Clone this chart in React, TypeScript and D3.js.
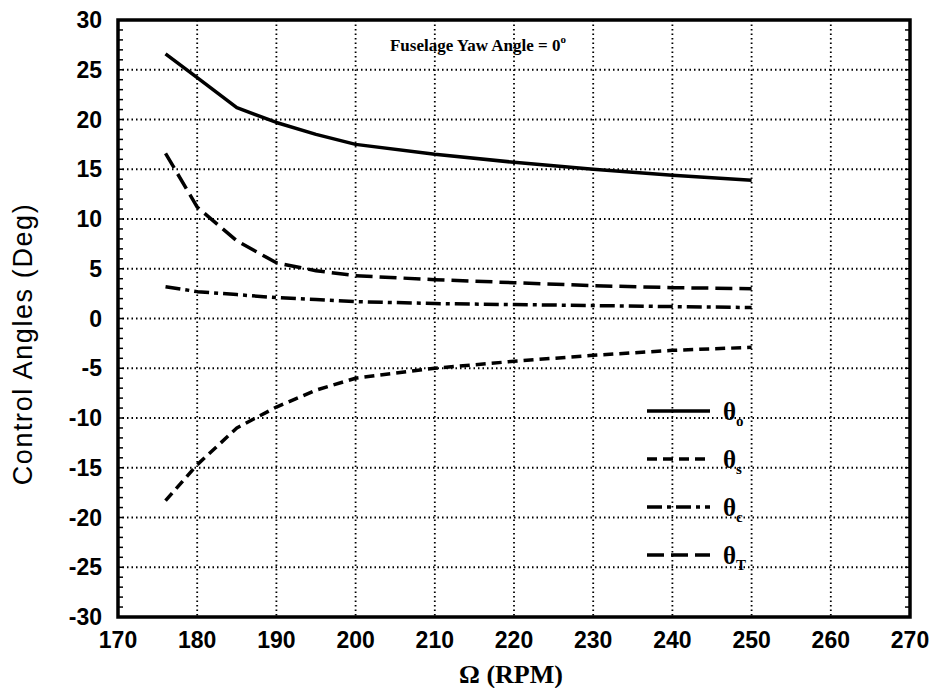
import React from "react";
import * as d3 from "d3";

const rpm = [176, 180, 185, 190, 195, 200, 210, 220, 230, 240, 250];
const thetaO = [26.6, 24.2, 21.2, 19.7, 18.5, 17.5, 16.5, 15.7, 15.0, 14.4, 13.9];
const thetaS = [-18.3, -14.7, -11.0, -8.9, -7.2, -6.0, -5.0, -4.3, -3.7, -3.2, -2.9];
const thetaC = [3.2, 2.7, 2.4, 2.1, 1.9, 1.7, 1.5, 1.4, 1.3, 1.2, 1.1];
const thetaT = [16.6, 11.2, 7.8, 5.6, 4.8, 4.3, 3.9, 3.6, 3.3, 3.1, 3.0];
const xTicks = [170, 180, 190, 200, 210, 220, 230, 240, 250, 260, 270];
const yTicks = [30, 25, 20, 15, 10, 5, 0, -5, -10, -15, -20, -25, -30];
const seriesNames = ["o", "s", "c", "T"];

export default function App() {
  const L = 118, R = 910, T = 20, B = 617;
  const x = d3.scaleLinear().domain([170, 270]).range([L, R]);
  const y = d3.scaleLinear().domain([-30, 30]).range([B, T]);
  const line = d3.line<[number, number]>().x(d => x(d[0])).y(d => y(d[1]));
  const series = [thetaO, thetaS, thetaC, thetaT];
  const dashes = ["none", "10 6", "15 5 4 5", "17 7"];
  const minor = d3.range(-30, 30.01, 1);
  const legendY = [411, 459, 507, 555];
  const sans = "Liberation Sans, Arial, sans-serif";
  const serif = "Liberation Serif, Times New Roman, serif";
  return (
    <svg width={936} height={688} style={{ position: "absolute", left: 0, top: 0, background: "#fff" }}>
      {xTicks.slice(1, -1).map(t => (
        <line key={"gx" + t} x1={x(t)} x2={x(t)} y1={T} y2={B} stroke="#000" strokeWidth={1.8} strokeDasharray="1.5 3" />
      ))}
      {yTicks.slice(1, -1).map(t => (
        <line key={"gy" + t} x1={L} x2={R} y1={y(t)} y2={y(t)} stroke="#000" strokeWidth={1.8} strokeDasharray="1.5 3" />
      ))}
      {minor.map(t => (
        <g key={"m" + t}>
          <line x1={L} x2={L + 5} y1={y(t)} y2={y(t)} stroke="#000" strokeWidth={1.5} />
          <line x1={R} x2={R - 5} y1={y(t)} y2={y(t)} stroke="#000" strokeWidth={1.5} />
        </g>
      ))}
      <rect x={L} y={T} width={R - L} height={B - T} fill="none" stroke="#000" strokeWidth={3.5} />
      {series.map((s, i) => (
        <path key={"s" + i} d={line(rpm.map((r, j) => [r, s[j]] as [number, number])) || ""} fill="none" stroke="#000"
          strokeWidth={3.5} strokeDasharray={dashes[i]} strokeLinejoin="round" />
      ))}
      {yTicks.map(t => (
        <text key={"yt" + t} x={L - 16} y={y(t) + 8} textAnchor="end" fontFamily={sans} fontWeight="bold" fontSize={23}>{t}</text>
      ))}
      {xTicks.map(t => (
        <text key={"xt" + t} x={x(t)} y={B + 31} textAnchor="middle" fontFamily={sans} fontWeight="bold" fontSize={23}>{t}</text>
      ))}
      <text transform={`translate(32,344) rotate(-90)`} textAnchor="middle" fontFamily={sans} fontSize={27} letterSpacing={1.6}>Control Angles (Deg)</text>
      <text x={511} y={683} textAnchor="middle" fontFamily={serif} fontWeight="bold" fontSize={26}>Ω (RPM)</text>
      <text x={478} y={51} textAnchor="middle" fontFamily={serif} fontWeight="bold" fontSize={17}>
        Fuselage Yaw Angle = 0<tspan dy={-8} fontSize={11}>o</tspan>
      </text>
      {seriesNames.map((n, i) => (
        <g key={"lg" + n}>
          <line x1={647} x2={710} y1={legendY[i]} y2={legendY[i]} stroke="#000" strokeWidth={3.5} strokeDasharray={dashes[i]} />
          <text x={723} y={legendY[i] + 9} fontFamily={serif} fontWeight="bold" fontSize={25}>
            θ<tspan dy={6} fontSize={15}>{n}</tspan>
          </text>
        </g>
      ))}
    </svg>
  );
}
